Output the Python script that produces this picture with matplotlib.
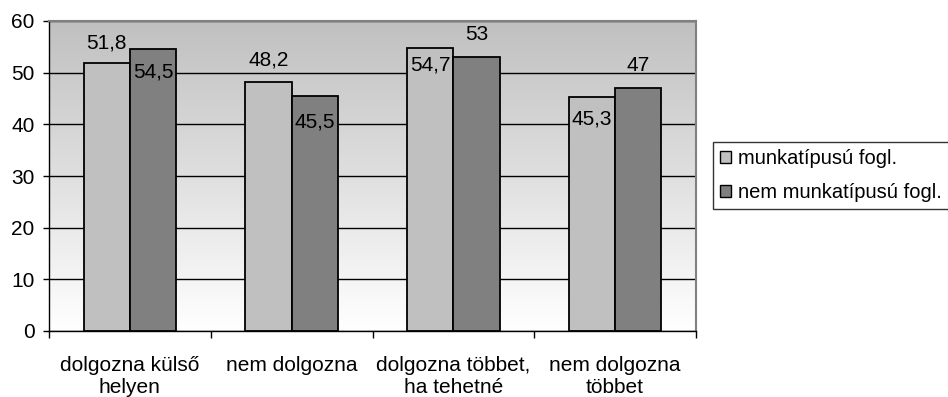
import matplotlib
matplotlib.use("Agg")
import matplotlib.pyplot as plt
import numpy as np
from matplotlib.colors import LinearSegmentedColormap

# Data
categories = ["dolgozna külső\nhelyen", "nem dolgozna", "dolgozna többet,\nha tehetné", "nem dolgozna\ntöbbet"]
series_names = ["munkatípusú fogl.", "nem munkatípusú fogl."]
munkatipusu = [51.8, 48.2, 54.7, 45.3]
nem_munkatipusu = [54.5, 45.5, 53.0, 47.0]
yticks = [0, 10, 20, 30, 40, 50, 60]

# Label placement relative to bar top, in points (positive = above)
label_offsets_light = [14.5, 16, -12, -16]
label_offsets_dark = [-16, -18.5, 16, 16]

plt.rcParams["font.family"] = ["Liberation Sans", "DejaVu Sans"]

fig = plt.figure(figsize=(9.48, 3.97), dpi=100)
ax = fig.add_axes([49 / 948, 1 - 331 / 397, (696 - 49) / 948, (331 - 21) / 397])

# Gradient background (gray at top fading to white)
grad = np.linspace(0, 1, 256).reshape(-1, 1)
cmap = LinearSegmentedColormap.from_list("bg", ["#ffffff", "#c0c0c0"])
ax.imshow(grad, aspect="auto", cmap=cmap, extent=[0, 1, 0, 1], transform=ax.transAxes,
          origin="lower", zorder=0)

x = np.arange(len(categories))
w = 1 / 3.5
light = ax.bar(x - w / 2, munkatipusu, width=w, color="#c0c0c0", edgecolor="black",
               linewidth=1.3, zorder=3, label=series_names[0])
dark = ax.bar(x + w / 2, nem_munkatipusu, width=w, color="#808080", edgecolor="black",
              linewidth=1.3, zorder=3, label=series_names[1])

def fmt(v):
    return f"{v:g}".replace(".", ",")

for bars, vals, offs in ((light, munkatipusu, label_offsets_light),
                         (dark, nem_munkatipusu, label_offsets_dark)):
    for b, v, o in zip(bars, vals, offs):
        ax.annotate(fmt(v), (b.get_x() + b.get_width() / 2, v), xytext=(0, o),
                    textcoords="offset points", ha="center", va="center",
                    fontsize=15, zorder=5)

ax.set_xlim(-0.5, len(categories) - 0.5)
ax.set_ylim(0, 60)
ax.set_yticks(yticks)
ax.set_yticklabels([str(t) for t in yticks], fontsize=15)
ax.yaxis.grid(True, color="black", linewidth=1.0, zorder=1)
ax.set_axisbelow(True)

ax.set_xticks(x)
ax.set_xticklabels(categories, fontsize=15, linespacing=1.2)
ax.tick_params(axis="x", length=0, pad=18)
ax.set_xticks(np.arange(len(categories) + 1) - 0.5, minor=True)
ax.tick_params(axis="x", which="minor", length=5, width=1, direction="out")
ax.tick_params(axis="y", length=4.5, width=1, direction="out", pad=6)

for side in ("top", "right"):
    ax.spines[side].set_color("#808080")
    ax.spines[side].set_linewidth(1.5)
for side in ("left", "bottom"):
    ax.spines[side].set_color("black")
    ax.spines[side].set_linewidth(1.0)

leg = fig.legend(handles=[light, dark], labels=series_names, loc="upper left",
                 bbox_to_anchor=(713 / 948, 1 - 142 / 397), fontsize=14.5,
                 frameon=True, fancybox=False, edgecolor="black", handlelength=0.55,
                 handleheight=0.55, handletextpad=0.35, borderpad=0.35, labelspacing=0.75,
                 borderaxespad=0)
leg.get_frame().set_linewidth(1.0)
for h in leg.legend_handles:
    h.set_linewidth(1.0)

fig.savefig("out.png", dpi=100)
